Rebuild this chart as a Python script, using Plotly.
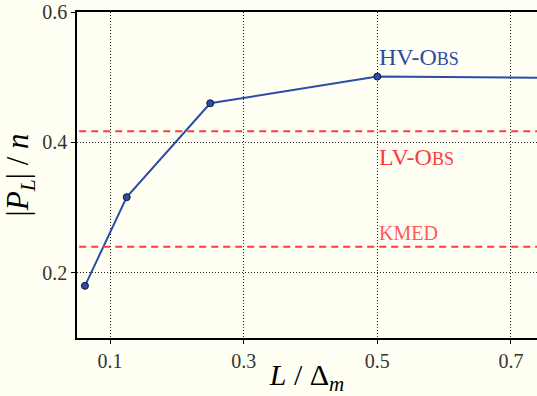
import plotly.graph_objects as go

# Normalised observer share versus relative spacing
ratio = [0.0625, 0.125, 0.25, 0.5, 1.0]
hv_obs = [0.180, 0.316, 0.460, 0.501, 0.497]
lv_obs_level = 0.417
kmed_level = 0.240

x_ticks = [0.1, 0.3, 0.5, 0.7]
y_ticks = [0.2, 0.4, 0.6]

BLUE = "#2c4ca6"
RED = "#ff3b3b"
RED_LIGHT = "#ff5a5a"
BG = "#fffff4"
FONT = "Liberation Serif"

fig = go.Figure()

fig.add_trace(go.Scatter(
    x=ratio, y=hv_obs, mode="lines+markers",
    line=dict(color=BLUE, width=2),
    marker=dict(size=7, color=BLUE, line=dict(color="#101830", width=1)),
    cliponaxis=True, showlegend=False,
))

for level in (lv_obs_level, kmed_level):
    fig.add_trace(go.Scatter(
        x=[0.0, 1.0], y=[level, level], mode="lines",
        line=dict(color=RED, width=2, dash="7px,5px"),
        showlegend=False,
    ))

small = "font-size:18px"
fig.add_annotation(x=0.5, y=0.531, xanchor="left", yanchor="middle", showarrow=False,
                   text=f"HV-O<span style='{small}'>BS</span>",
                   font=dict(family=FONT, size=24, color=BLUE))
fig.add_annotation(x=0.5, y=0.377, xanchor="left", yanchor="middle", showarrow=False,
                   text=f"LV-O<span style='{small}'>BS</span>",
                   font=dict(family=FONT, size=24, color=RED))
fig.add_annotation(x=0.5, y=0.261, xanchor="left", yanchor="middle", showarrow=False,
                   text="KMED",
                   font=dict(family=FONT, size=20, color=RED_LIGHT))

axis_common = dict(
    showline=True, linecolor="black", linewidth=1.5,
    showgrid=True, gridcolor="#222222", gridwidth=1, griddash="1px,2px",
    ticks="outside", ticklen=4, tickcolor="black",
    tickfont=dict(family=FONT, size=20, color="#333333"),
    zeroline=False,
)

fig.update_xaxes(
    range=[0.0506, 0.739], tickvals=x_ticks, ticktext=[str(v) for v in x_ticks],
    title=dict(text="<i>L</i> / Δ<sub><i>m</i></sub>", font=dict(family=FONT, size=30, color="black"),
               standoff=0),
    mirror=True, **axis_common,
)
fig.update_yaxes(
    range=[0.1, 0.6], tickvals=y_ticks, ticktext=[str(v) for v in y_ticks],
    title=dict(text="|<i>P</i><sub><i>L</i></sub>| / <i>n</i>", font=dict(family=FONT, size=31, color="black"),
               standoff=4),
    mirror=False, **axis_common,
)

fig.update_layout(
    width=537, height=396,
    margin=dict(l=77, r=0, t=12, b=58),
    paper_bgcolor=BG, plot_bgcolor=BG,
    font=dict(family=FONT),
)

fig.write_html("out.html")
